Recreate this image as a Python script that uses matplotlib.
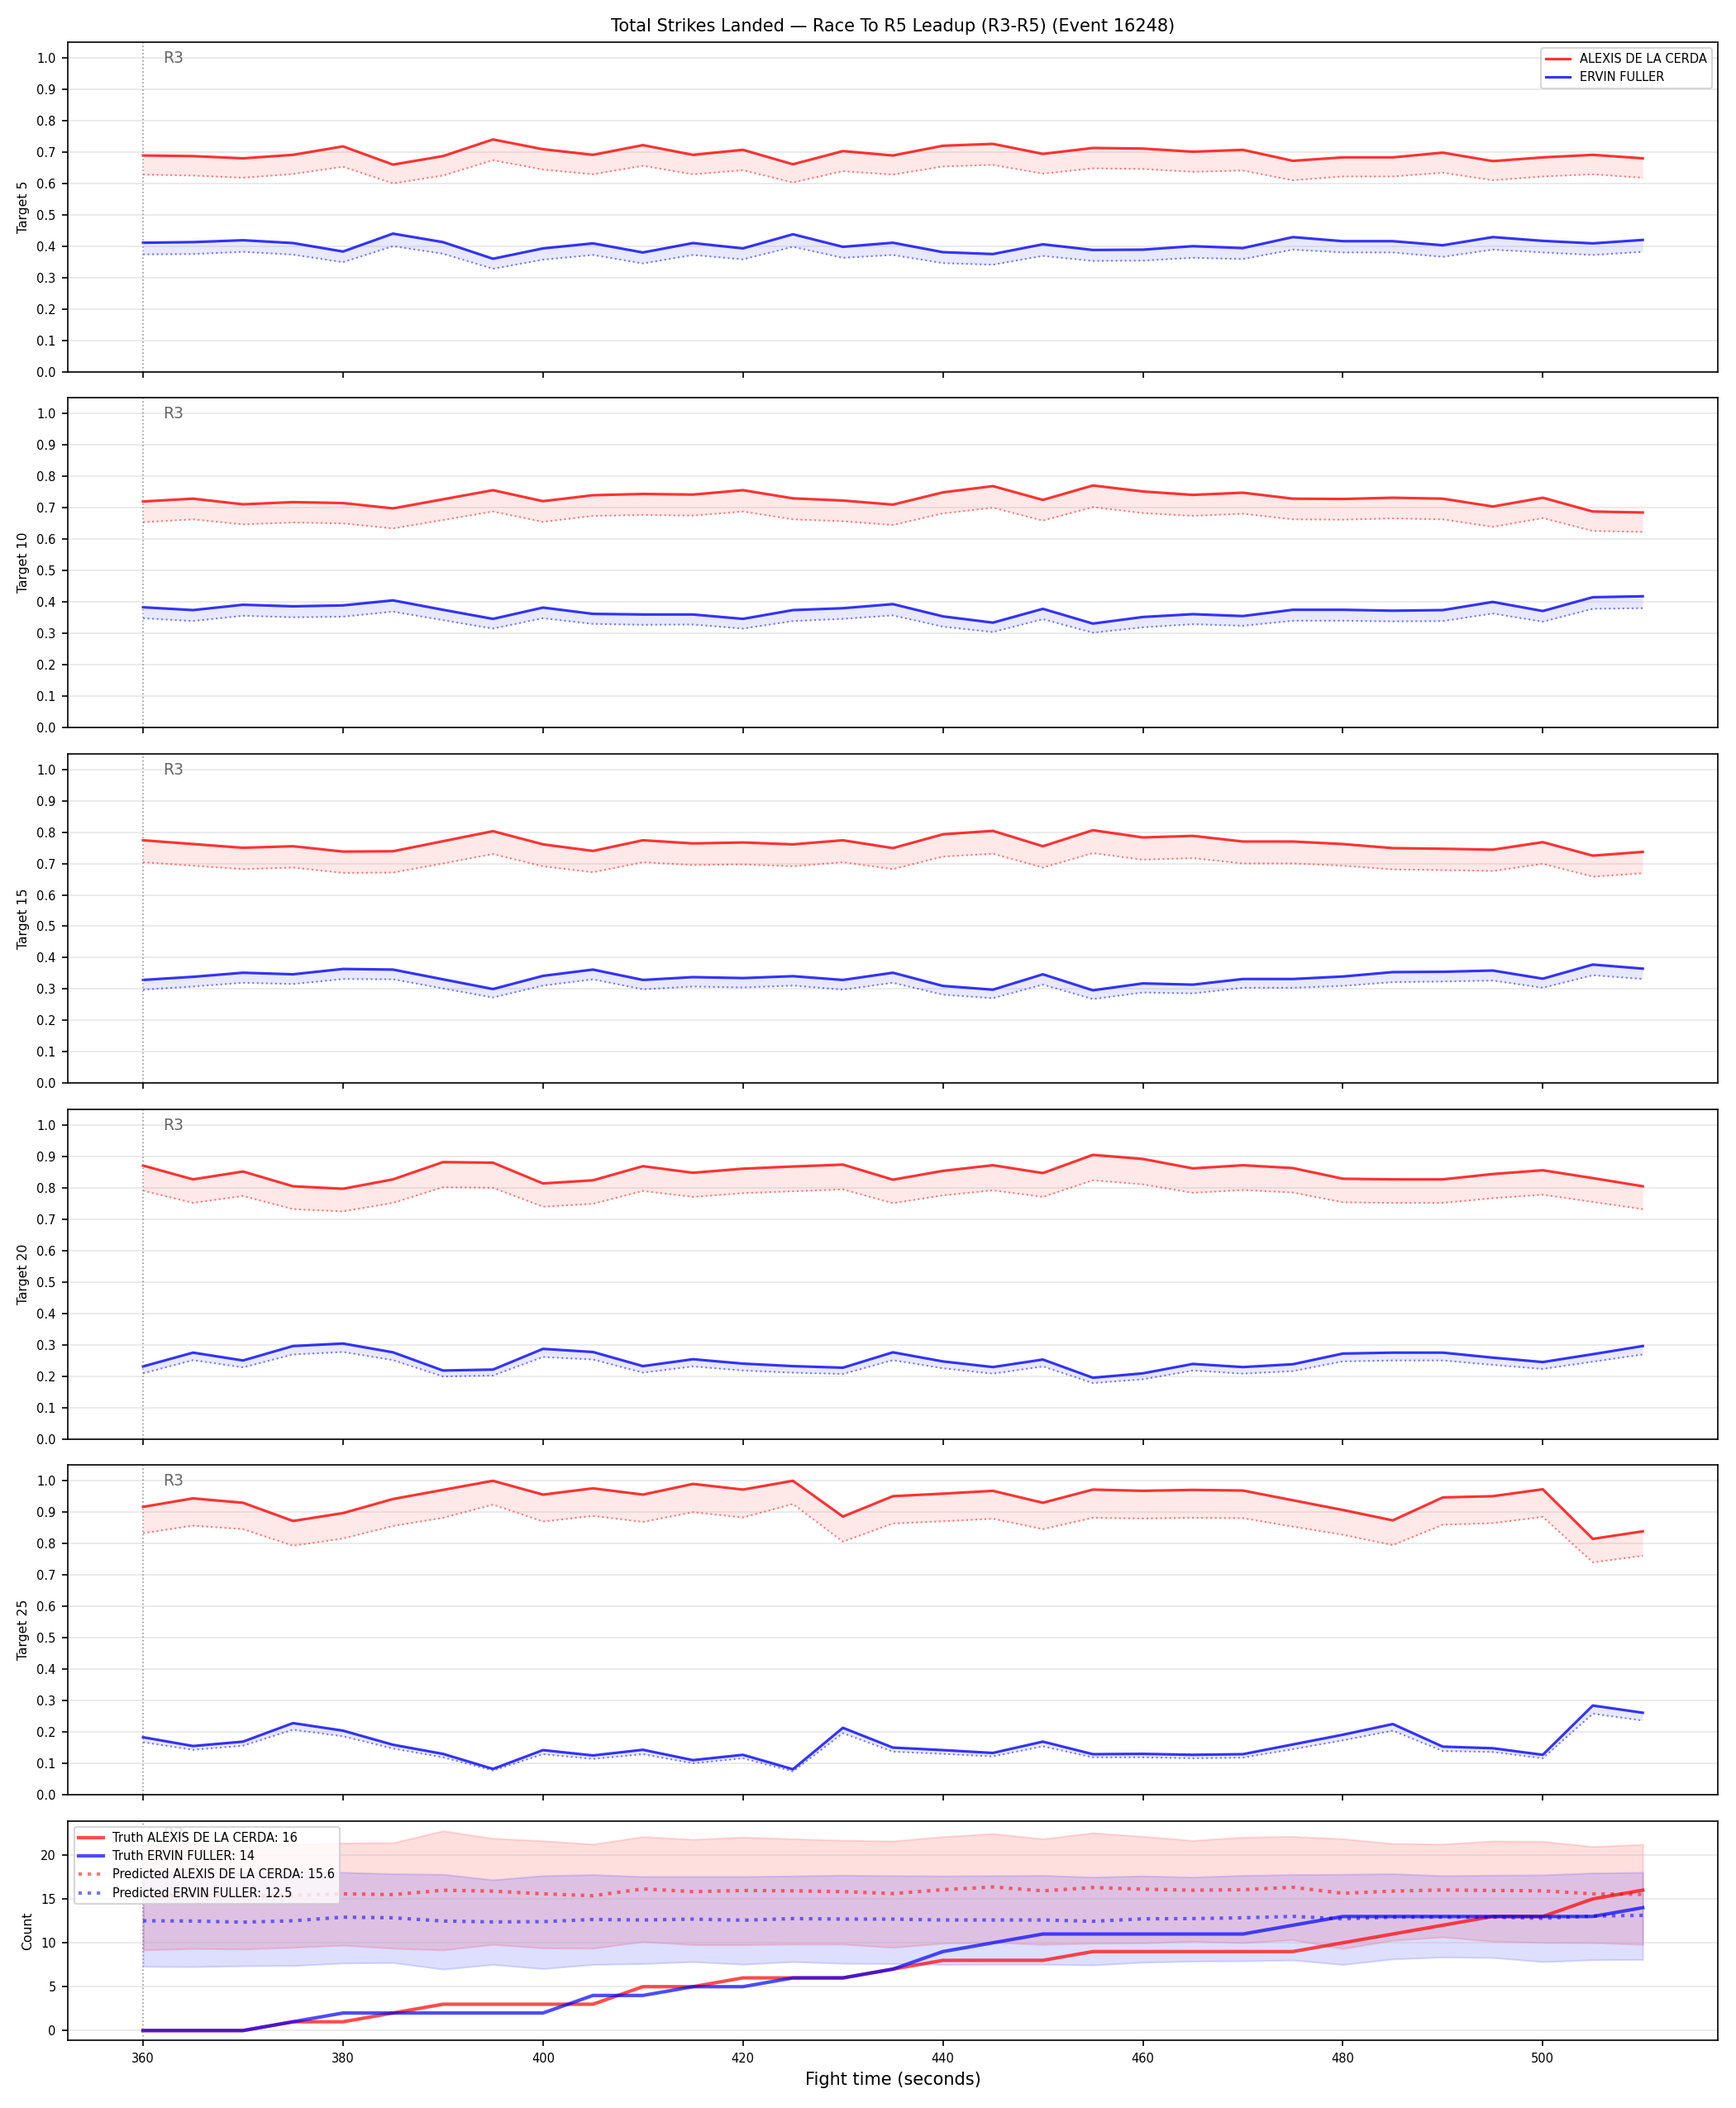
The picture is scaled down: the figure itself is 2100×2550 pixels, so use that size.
import matplotlib
matplotlib.use("Agg")
import matplotlib.pyplot as plt

# ---------------- data ----------------
times = list(range(360, 515, 5))
fighter_a = "ALEXIS DE LA CERDA"
fighter_b = "ERVIN FULLER"
title = "Total Strikes Landed \u2014 Race To R5 Leadup (R3-R5) (Event 16248)"
targets = [5, 10, 15, 20, 25]
round_marker_time = 360
round_marker_label = "R3"

t5_a = [0.689,0.687,0.680,0.691,0.718,0.660,0.687,0.740,0.709,0.691,0.722,0.691,0.707,0.661,0.703,
        0.689,0.720,0.726,0.694,0.713,0.711,0.701,0.707,0.672,0.683,0.683,0.698,0.671,0.683,0.691,0.680]
t5_a_pred = [0.628,0.625,0.618,0.630,0.653,0.600,0.625,0.674,0.644,0.629,0.656,0.629,0.642,0.603,0.639,
             0.628,0.654,0.659,0.631,0.648,0.646,0.637,0.641,0.610,0.622,0.622,0.634,0.610,0.622,0.629,0.618]
t5_b = [0.411,0.413,0.419,0.410,0.383,0.440,0.413,0.360,0.393,0.409,0.380,0.410,0.393,0.438,0.398,
        0.411,0.381,0.375,0.406,0.388,0.389,0.400,0.394,0.429,0.416,0.416,0.403,0.429,0.417,0.409,0.420]
t5_b_pred = [0.374,0.375,0.382,0.373,0.349,0.400,0.376,0.328,0.357,0.372,0.345,0.372,0.358,0.398,0.363,
             0.372,0.346,0.341,0.369,0.353,0.354,0.363,0.359,0.389,0.380,0.380,0.366,0.389,0.380,0.372,0.382]

t10_a = [0.720,0.729,0.711,0.718,0.715,0.698,0.727,0.756,0.721,0.740,0.744,0.742,0.756,0.730,0.723,
         0.710,0.749,0.769,0.725,0.771,0.752,0.741,0.748,0.729,0.728,0.732,0.729,0.704,0.732,0.688,0.685]
t10_a_pred = [0.654,0.663,0.647,0.653,0.650,0.634,0.661,0.688,0.655,0.674,0.677,0.675,0.688,0.663,0.657,
              0.645,0.682,0.700,0.659,0.702,0.683,0.674,0.681,0.663,0.662,0.666,0.663,0.639,0.667,0.626,0.623]
t10_b = [0.383,0.374,0.391,0.386,0.389,0.405,0.375,0.346,0.382,0.362,0.360,0.360,0.346,0.374,0.380,
         0.393,0.354,0.334,0.378,0.331,0.352,0.361,0.355,0.375,0.375,0.372,0.374,0.400,0.371,0.415,0.418]
t10_b_pred = [0.348,0.339,0.356,0.351,0.353,0.369,0.342,0.315,0.348,0.330,0.327,0.328,0.315,0.339,0.346,
              0.357,0.321,0.304,0.345,0.302,0.319,0.329,0.324,0.340,0.340,0.338,0.339,0.363,0.337,0.378,0.380]

t15_a = [0.774,0.762,0.750,0.755,0.738,0.739,0.771,0.803,0.761,0.740,0.774,0.764,0.767,0.761,0.774,
         0.749,0.793,0.804,0.755,0.806,0.783,0.788,0.770,0.770,0.762,0.749,0.747,0.744,0.768,0.725,0.737]
t15_a_pred = [0.704,0.693,0.682,0.687,0.670,0.671,0.700,0.730,0.691,0.672,0.704,0.695,0.697,0.691,0.704,
              0.682,0.722,0.731,0.687,0.733,0.712,0.717,0.700,0.700,0.693,0.681,0.679,0.676,0.699,0.658,0.669]
t15_b = [0.329,0.339,0.352,0.347,0.364,0.362,0.331,0.300,0.342,0.362,0.329,0.338,0.335,0.341,0.329,
         0.352,0.310,0.298,0.347,0.296,0.318,0.314,0.332,0.332,0.340,0.354,0.355,0.359,0.333,0.378,0.365]
t15_b_pred = [0.298,0.308,0.320,0.316,0.332,0.331,0.302,0.273,0.311,0.331,0.299,0.308,0.305,0.311,0.298,
              0.320,0.282,0.271,0.314,0.268,0.289,0.286,0.304,0.304,0.310,0.322,0.324,0.327,0.304,0.344,0.332]

t20_a = [0.871,0.827,0.852,0.805,0.797,0.827,0.882,0.880,0.814,0.824,0.869,0.848,0.861,0.868,0.874,
         0.826,0.854,0.872,0.847,0.905,0.892,0.862,0.872,0.863,0.829,0.827,0.827,0.844,0.856,0.831,0.805]
t20_a_pred = [0.791,0.752,0.774,0.732,0.725,0.752,0.802,0.800,0.740,0.749,0.790,0.771,0.783,0.789,0.795,
              0.751,0.776,0.792,0.771,0.824,0.811,0.784,0.793,0.785,0.754,0.752,0.752,0.767,0.778,0.755,0.732]
t20_b = [0.231,0.275,0.250,0.296,0.304,0.276,0.218,0.221,0.287,0.277,0.232,0.254,0.240,0.232,0.227,
         0.276,0.247,0.229,0.253,0.195,0.209,0.239,0.229,0.238,0.272,0.275,0.275,0.259,0.245,0.270,0.296]
t20_b_pred = [0.209,0.251,0.228,0.269,0.277,0.251,0.199,0.202,0.261,0.253,0.211,0.231,0.218,0.211,0.207,
              0.251,0.225,0.208,0.231,0.178,0.190,0.218,0.208,0.216,0.247,0.250,0.250,0.236,0.223,0.246,0.269]

t25_a = [0.917,0.944,0.930,0.872,0.897,0.942,0.971,1.000,0.956,0.976,0.956,0.990,0.972,1.000,0.886,
         0.951,0.959,0.968,0.930,0.972,0.968,0.971,0.969,0.938,0.907,0.874,0.947,0.951,0.973,0.815,0.839]
t25_a_pred = [0.833,0.857,0.846,0.793,0.816,0.856,0.882,0.924,0.870,0.888,0.869,0.900,0.883,0.926,0.806,
              0.864,0.871,0.879,0.846,0.882,0.880,0.882,0.881,0.854,0.828,0.795,0.860,0.865,0.885,0.740,0.761]
t25_b = [0.183,0.155,0.169,0.228,0.204,0.159,0.130,0.082,0.142,0.125,0.143,0.110,0.127,0.081,0.213,
         0.150,0.142,0.133,0.169,0.129,0.130,0.127,0.129,0.160,0.191,0.225,0.153,0.148,0.127,0.284,0.261]
t25_b_pred = [0.167,0.143,0.156,0.207,0.186,0.147,0.119,0.077,0.129,0.114,0.129,0.100,0.116,0.074,0.196,
              0.137,0.130,0.122,0.154,0.119,0.119,0.116,0.118,0.145,0.173,0.204,0.139,0.136,0.116,0.258,0.236]

count_truth_a = [0,0,0,1,1,2,3,3,3,3,5,5,6,6,6,7,8,8,8,9,9,9,9,9,10,11,12,13,13,15,16]
count_truth_b = [0,0,0,1,2,2,2,2,2,4,4,5,5,6,6,7,9,10,11,11,11,11,11,12,13,13,13,13,13,13,14]
count_pred_a = [15.3,15.4,15.3,15.4,15.58,15.49,15.99,15.89,15.58,15.36,16.14,15.83,15.96,15.92,15.83,
                15.61,16.05,16.36,15.92,16.30,16.11,15.99,16.05,16.33,15.64,15.89,16.02,15.96,15.92,15.58,15.52]
count_pred_b = [12.51,12.48,12.35,12.51,12.92,12.85,12.48,12.38,12.41,12.66,12.60,12.70,12.57,12.76,12.70,
                12.70,12.60,12.60,12.60,12.45,12.73,12.76,12.85,13.01,12.73,12.92,12.92,12.92,12.79,13.04,13.13]
count_hi_a = [21.2,21.3,21.0,21.2,21.38,21.41,22.76,21.91,21.63,21.25,22.10,21.79,22.04,21.85,21.69,
              21.60,22.10,22.45,21.85,22.54,22.13,21.66,22.04,22.13,21.85,21.32,21.25,21.60,21.57,20.97,21.22]
count_lo_a = [9.18,9.34,9.28,9.47,9.72,9.37,9.18,9.81,9.40,9.37,10.13,9.78,9.78,9.84,9.84,
              9.47,9.94,10.03,9.81,9.94,9.97,10.16,10.0,10.34,9.34,10.28,10.66,10.16,10.03,10.0,9.81]
count_hi_b = [18.0,18.1,18.0,18.1,18.03,17.87,17.81,17.18,17.65,17.77,17.55,17.55,17.55,17.62,17.71,
              17.65,17.62,17.65,17.68,17.49,17.62,17.49,17.68,17.77,17.81,17.87,17.65,17.71,17.74,17.96,18.03]
count_lo_b = [7.30,7.27,7.37,7.40,7.68,7.74,6.99,7.52,7.05,7.52,7.62,7.84,7.55,7.84,7.65,
              7.62,7.52,7.55,7.55,7.46,7.77,7.90,7.93,8.03,7.52,8.15,8.37,8.31,7.84,8.06,8.09]
final_truth_a = 16
final_truth_b = 14
final_pred_a = 15.6
final_pred_b = 12.5

prob_series = [
    (t5_a, t5_a_pred, t5_b, t5_b_pred),
    (t10_a, t10_a_pred, t10_b, t10_b_pred),
    (t15_a, t15_a_pred, t15_b, t15_b_pred),
    (t20_a, t20_a_pred, t20_b, t20_b_pred),
    (t25_a, t25_a_pred, t25_b, t25_b_pred),
]

COL_A = "red"
COL_B = "blue"

# ---------------- figure ----------------
fig = plt.figure(figsize=(14, 17), dpi=150)
gs = fig.add_gridspec(6, 1, height_ratios=[1.5] * 5 + [1], hspace=0.084,
                      left=0.0392, right=0.9895, top=0.98, bottom=0.0320)
axes = [fig.add_subplot(gs[i, 0]) for i in range(6)]
for ax in axes[1:]:
    ax.sharex(axes[0])

for i, (ax, tgt, (a, ap, b, bp)) in enumerate(zip(axes[:5], targets, prob_series)):
    ax.plot(times, a, color=COL_A, lw=1.5, alpha=0.8, label=fighter_a)
    ax.plot(times, ap, color=COL_A, lw=1.0, alpha=0.5, ls=":")
    ax.fill_between(times, ap, a, color=COL_A, alpha=0.09, lw=0)
    ax.plot(times, b, color=COL_B, lw=1.5, alpha=0.8, label=fighter_b)
    ax.plot(times, bp, color=COL_B, lw=1.0, alpha=0.5, ls=":")
    ax.fill_between(times, bp, b, color=COL_B, alpha=0.09, lw=0)
    ax.set_ylim(0, 1.05)
    ax.set_yticks([k / 10 for k in range(11)])
    ax.set_ylabel(f"Target {tgt}", fontsize=7.5)
    ax.grid(axis="y", alpha=0.3)
    ax.axvline(round_marker_time, color="gray", ls=":", lw=0.8, alpha=0.8)
    ax.text(round_marker_time + 2, 1.05 * 0.975, round_marker_label, fontsize=9,
            color="#666666", va="top", ha="left")
    ax.tick_params(labelsize=7)
    plt.setp(ax.get_xticklabels(), visible=False)
    if i == 0:
        ax.legend(loc="upper right", fontsize=7)
        ax.set_title(title, fontsize=10)

ax = axes[5]
ax.fill_between(times, count_lo_a, count_hi_a, color=COL_A, alpha=0.13)
ax.fill_between(times, count_lo_b, count_hi_b, color=COL_B, alpha=0.13)
ax.plot(times, count_truth_a, color=COL_A, lw=2, alpha=0.7,
        label=f"Truth {fighter_a}: {final_truth_a}")
ax.plot(times, count_truth_b, color=COL_B, lw=2, alpha=0.7,
        label=f"Truth {fighter_b}: {final_truth_b}")
ax.plot(times, count_pred_a, color=COL_A, lw=2, alpha=0.55, ls=":",
        label=f"Predicted {fighter_a}: {final_pred_a}")
ax.plot(times, count_pred_b, color=COL_B, lw=2, alpha=0.55, ls=":",
        label=f"Predicted {fighter_b}: {final_pred_b}")
ax.grid(axis="y", alpha=0.3)
ax.axvline(round_marker_time, color="gray", ls=":", lw=0.8, alpha=0.8)
ymax = ax.get_ylim()[1]
ax.text(round_marker_time + 2, ymax * 0.975, round_marker_label, fontsize=9,
        color="#666666", va="top", ha="left", zorder=1)
ax.set_ylabel("Count", fontsize=7.5)
ax.set_xlabel("Fight time (seconds)", fontsize=10)
ax.tick_params(labelsize=7)
leg = ax.legend(loc="upper left", fontsize=7)
leg.set_zorder(5)

fig.savefig("out.png", dpi=150)
